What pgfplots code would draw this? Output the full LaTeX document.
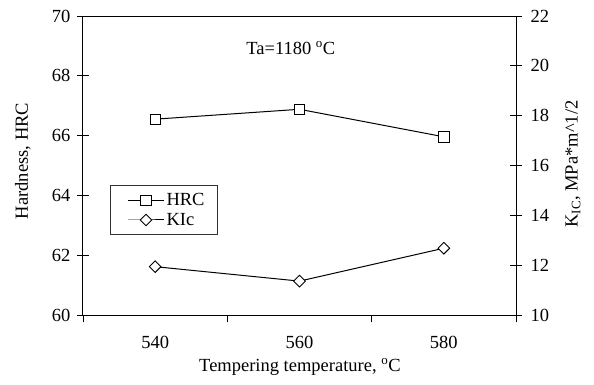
\documentclass[border=0pt]{standalone}
\usepackage{fontspec}
\setmainfont{Liberation Serif}
\usepackage{pgfplots}
\pgfplotsset{compat=1.18}

\begin{document}
\begin{tikzpicture}[font=\fontsize{18.5}{22}\selectfont]
\useasboundingbox (-83pt,-69pt) rectangle (511pt,315pt);
\pgfplotsset{
  every axis/.append style={
    scale only axis, width=433pt, height=299pt,
    xmin=530, xmax=590,
    /pgf/number format/assume math mode=true,
    axis line style={line width=1pt, black},
    every tick/.style={black, line width=0.8pt},
    major tick length=12pt,
    minor tick length=7pt,
    tick align=center,
  },
  hrc/.style={black, line width=1pt, mark=square*, mark size=5.2pt,
    mark options={fill=white, draw=black, line width=0.9pt}},
  kic/.style={black, line width=1pt, mark=square*, mark size=4.1pt,
    mark options={fill=white, draw=black, line width=0.9pt, rotate=45}},
}
% Hardness on the left axis
\begin{axis}[
  ymin=60, ymax=70, ytick={60,62,...,70},
  ytick pos=left,
  xtick={540,560,580}, minor xtick={530,550,570,590},
  xtick pos=bottom,
  major x tick style={draw=none},
  minor x tick style={yshift=-3.5pt},
  xticklabel style={yshift=-12pt},
  yticklabel style={xshift=-3pt},
  every axis y label/.style={at={(axis description cs:-0.1386,0.515)}, rotate=90, anchor=center},
  every axis x label/.style={at={(axis description cs:0.501,-0.174)}, anchor=center},
  ylabel={Hardness, HRC},
  xlabel={Tempering temperature, \textsuperscript{o}C},
]
\addplot[hrc] coordinates {(540,66.55) (560,66.88) (580,65.96)};
\node at (axis cs:558.8,68.93) {Ta=1180 \textsuperscript{o}C};
\end{axis}
% Fracture toughness on the right axis
\begin{axis}[
  ymin=10, ymax=22, ytick={10,12,...,22},
  axis y line*=right, axis x line=none,
  yticklabel style={xshift=5pt},
  every axis y label/.style={at={(axis description cs:1.1316,0.505)}, rotate=90, anchor=center},
  ylabel={K\textsubscript{IC}, MPa*m\^{}1/2},
  legend image code/.code={\path (-6pt,0pt);\draw[mark repeat=2,mark phase=2,line width=1pt,#1] plot coordinates {(0pt,0pt) (18pt,0pt) (36pt,0pt)};},
  legend style={at={(0.0624,0.435)}, anchor=north west, draw=black!80, line width=1pt,
    fill=white, cells={anchor=west}, row sep=2pt, inner xsep=11pt, inner ysep=6pt},
]
\addlegendimage{hrc}
\addlegendentry{HRC}
\addplot[kic] coordinates {(540,11.94) (560,11.36) (580,12.68)};
\addlegendentry{KIc}
\end{axis}
\end{tikzpicture}
\end{document}
